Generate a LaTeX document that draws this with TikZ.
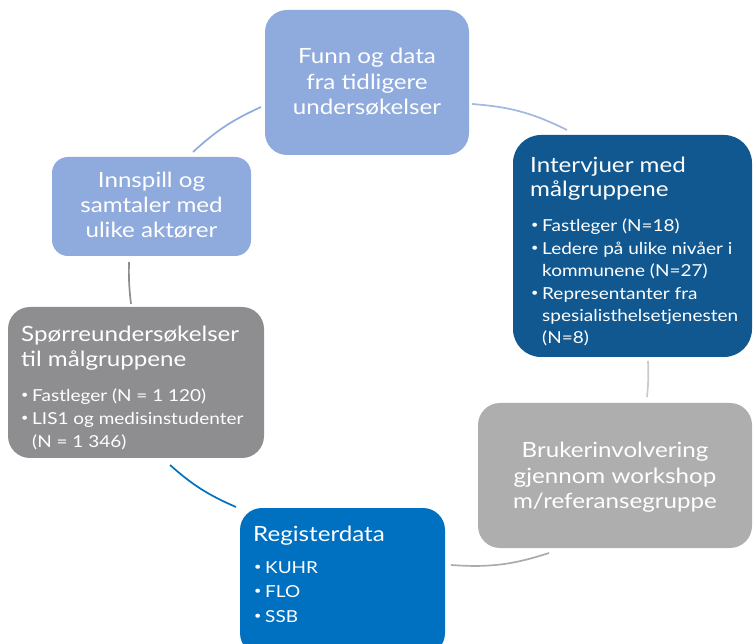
\documentclass[tikz,border=0pt]{standalone}
\usepackage{fontspec}
\setmainfont{Lato}[FakeStretch=1.15]
\definecolor{lb}{HTML}{8FAADC}
\definecolor{db}{HTML}{115890}
\definecolor{lg}{HTML}{AEAEAE}
\definecolor{bb}{HTML}{0070C0}
\definecolor{mg}{HTML}{8E8E90}
\definecolor{arcA}{HTML}{A3B7DF}
\definecolor{arcC}{HTML}{CACACA}
\definecolor{arcE}{HTML}{ABABAB}
\definecolor{arcI}{HTML}{8E8E8E}
\begin{document}
\begin{tikzpicture}[x=1pt,y=-1pt,
  ttl/.style={text=white, font=\fontsize{21}{25}\selectfont, inner sep=0pt},
  blt/.style={text=white, font=\fontsize{16.5}{22}\selectfont, inner sep=0pt},
  dot/.style={text=white, font=\fontsize{11}{22}\selectfont, inner sep=0pt},
  arcline/.style={line width=1.7pt}]
\useasboundingbox (0,0) rectangle (753,644);
\clip (0,0) rectangle (753,644);

% boxes
\path[fill=lb, rounded corners=22pt] (265,10) rectangle (469,155);
\node[inner sep=0pt, minimum width=204pt, minimum height=145pt] (top) at (367,82.5) {};
\path[fill=db, rounded corners=28pt] (513,135) rectangle (752,357);
\node[inner sep=0pt, minimum width=239pt, minimum height=222pt] (intv) at (632.5,246) {};
\path[fill=lg, rounded corners=22pt] (478,403) rectangle (752,548);
\node[inner sep=0pt, minimum width=274pt, minimum height=145pt] (bruk) at (615,475.5) {};
\path[fill=bb, rounded corners=22pt] (240,508) rectangle (445,655);
\node[inner sep=0pt, minimum width=205pt, minimum height=147pt] (reg) at (342.5,581.5) {};
\path[fill=mg, rounded corners=22pt] (8,307) rectangle (264,458);
\node[inner sep=0pt, minimum width=256pt, minimum height=151pt] (spor) at (136,382.5) {};
\path[fill=lb, rounded corners=16pt] (52,157) rectangle (251,256);
\node[inner sep=0pt, minimum width=199pt, minimum height=99pt] (inns) at (151.5,206.5) {};

% arc end points
\coordinate (A) at (472,104);
\coordinate (B) at (567,130);
\coordinate (C) at (648,361);
\coordinate (D) at (647,397);
\coordinate (E) at (549,553);
\coordinate (F) at (451,565);
\coordinate (G) at (236,507);
\coordinate (H) at (170,465);
\coordinate (I) at (131,304);
\coordinate (J) at (129,262);
\coordinate (K) at (193,152);
\coordinate (L) at (261,107);

\draw[arcline, arcA] (A) to[bend left=11] (B);
\draw[arcline, arcC] (C) to[bend left=4] (D);
\draw[arcline, arcE] (E) to[bend left=11] (F);
\draw[arcline, bb] (G) to[bend left=9] (H);
\draw[arcline, arcI] (I) to[bend left=4] (J);
\draw[arcline, lb] (K) to[bend left=9] (L);

% top box text
\node[ttl, anchor=base] (t1) at (367,64) {Funn og data};
\node[ttl, anchor=base] (t2) at (367,90) {fra tidligere};
\node[ttl, anchor=base] (t3) at (367,115) {undersøkelser};

% innspill text
\node[ttl, anchor=base] (n1) at (151.5,188) {Innspill og};
\node[ttl, anchor=base] (n2) at (151.5,213) {samtaler med};
\node[ttl, anchor=base] (n3) at (151.5,238) {ulike aktører};

% bruker text
\node[ttl, anchor=base] (b1) at (615,457) {Brukerinvolvering};
\node[ttl, anchor=base] (b2) at (615,483) {gjennom workshop};
\node[ttl, anchor=base] (b3) at (615,508) {m/referansegruppe};

% intervjuer text
\node[ttl, anchor=base west] (i1) at (530,173) {Intervjuer med};
\node[ttl, anchor=base west] (i2) at (530,197) {målgruppene};
\node[dot, anchor=base west] (id1) at (531,229) {•};
\node[blt, anchor=base west] (i3) at (542,232) {Fastleger (N=18)};
\node[dot, anchor=base west] (id2) at (531,252) {•};
\node[blt, anchor=base west] (i4) at (542,255) {Ledere på ulike nivåer i};
\node[blt, anchor=base west] (i5) at (542,277) {kommunene (N=27)};
\node[dot, anchor=base west] (id3) at (531,297) {•};
\node[blt, anchor=base west] (i6) at (542,300) {Representanter fra};
\node[blt, anchor=base west] (i7) at (542,322) {spesialisthelsetjenesten};
\node[blt, anchor=base west] (i8) at (542,344) {(N=8)};

% sporre text
\node[ttl, anchor=base west] (s1) at (21,342) {Spørreundersøkelser};
\node[ttl, anchor=base west] (s2) at (21,367) {til målgruppene};
\node[dot, anchor=base west] (sd1) at (21,399) {•};
\node[blt, anchor=base west] (s3) at (32,402) {Fastleger (N = 1 120)};
\node[dot, anchor=base west] (sd2) at (21,422) {•};
\node[blt, anchor=base west] (s4) at (32,425) {LIS1 og medisinstudenter};
\node[blt, anchor=base west] (s5) at (32,447) {(N = 1 346)};

% register text
\node[ttl, anchor=base west] (r1) at (253,541) {Registerdata};
\node[dot, anchor=base west] (rd1) at (254,570) {•};
\node[blt, anchor=base west] (r2) at (265,573) {KUHR};
\node[dot, anchor=base west] (rd2) at (254,594) {•};
\node[blt, anchor=base west] (r3) at (265,597) {FLO};
\node[dot, anchor=base west] (rd3) at (254,619) {•};
\node[blt, anchor=base west] (r4) at (265,622) {SSB};
\end{tikzpicture}
\end{document}
